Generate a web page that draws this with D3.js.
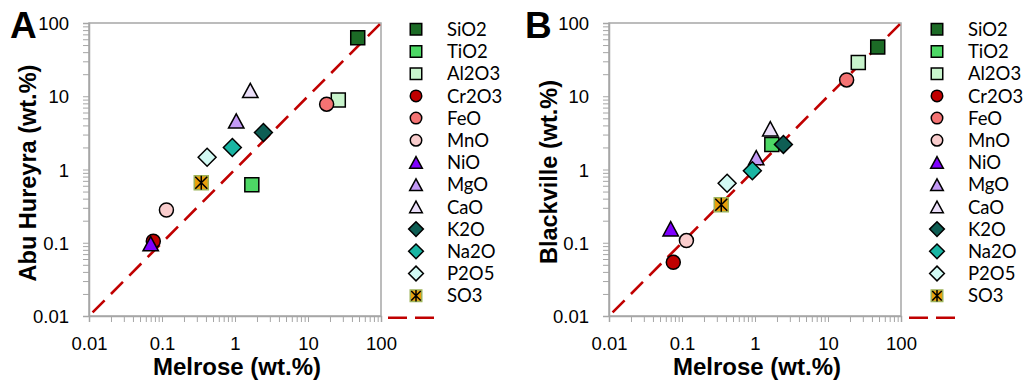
<!DOCTYPE html>
<html><head><meta charset="utf-8">
<script src="https://cdn.jsdelivr.net/npm/d3@7"></script>
<style>body{margin:0;background:#fff}svg{display:block}</style>
</head><body>
<svg id="c" width="1023" height="385"></svg>
<script>
const oxides = ["SiO2","TiO2","Al2O3","Cr2O3","FeO","MnO","NiO","MgO","CaO","K2O","Na2O","P2O5","SO3"];
const shapes = ["square","square","square","circle","circle","circle","triangle","triangle","triangle","diamond","diamond","diamond","star"];
const colors = ["#1c6b26","#4dd865","#c8f4cc","#c00000","#f47373","#f9cdcd","#7f00ff","#c39af5","#ebdff9","#0e5e54","#19b5a3","#d2faf4","#e9a00c"];
const melrose    = [48, 1.7, 26, 0.076, 18, 0.115, 0.07, 1.04, 1.62, 2.45, 0.92, 0.415, 0.345];
const abuHureyra = [63, 0.62, 8.9, 0.105, 7.8, 0.28, 0.097, 4.6, 12, 3.2, 2.0, 1.47, 0.66];
const blackville = [47, 2.2, 29, 0.054, 16.7, 0.107, 0.155, 1.45, 3.6, 2.2, 0.96, 0.65, 0.33];
const majorTicks = [0.01, 0.1, 1, 10, 100];
const tickLabels = ["0.01","0.1","1","10","100"];
const oneToOne = [0.0112, 100];

const svg = d3.select("#c");
const GRAY = "#a6a6a6";
const tickVals = [];
for (let k = -2; k < 2; k++) for (let m = 1; m < 10; m++) tickVals.push(+(m * Math.pow(10, k)).toPrecision(3));
tickVals.push(100);
const fmt = v => { const i = majorTicks.findIndex(t => Math.abs(t - v) / t < 1e-6); return i >= 0 ? tickLabels[i] : ""; };

function markerPath(shape, s) {
  if (shape === "circle") return d3.symbol(d3.symbolCircle, Math.PI * s * s / 4)();
  if (shape === "square" || shape === "star") { const h = s / 2; return `M${-h},${-h}H${h}V${h}H${-h}Z`; }
  if (shape === "triangle") { const w = s * 1.1, hh = s * 1.02; return `M0,${-hh/2}L${w/2},${hh/2}L${-w/2},${hh/2}Z`; }
  if (shape === "diamond") { const h = s * 0.64; return `M0,${-h}L${h},0L0,${h}L${-h},0Z`; }
}
function drawMarker(g, i, cx, cy, s) {
  const shape = shapes[i];
  const gg = g.append("g").attr("transform", `translate(${cx},${cy})`);
  if (shape === "star") {
    gg.append("path").attr("d", markerPath(shape, s)).attr("fill", colors[i]).attr("stroke", "#9db35a").attr("stroke-width", 1.5);
    const h = s / 2 - 1;
    gg.append("path").attr("d", `M${-h},${-h}L${h},${h}M${-h},${h}L${h},${-h}M0,${-h-1}V${h+1}`).attr("stroke", "#000").attr("stroke-width", 1.5).attr("fill", "none");
  } else {
    gg.append("path").attr("d", markerPath(shape, s)).attr("fill", colors[i]).attr("stroke", "#000").attr("stroke-width", 1.5);
  }
}

function panel(opt) {
  const x = d3.scaleLog().domain([0.01, 100]).range([opt.left, opt.left + 292]);
  const y = d3.scaleLog().domain([0.01, 100]).range([316, 23]);
  const g = svg.append("g");
  g.append("rect").attr("x", x.range()[0]).attr("y", y.range()[1]).attr("width", 292).attr("height", 293)
    .attr("fill", "none").attr("stroke", GRAY).attr("stroke-width", 1.5);
  const xa = g.append("g").attr("transform", "translate(0,316)")
    .call(d3.axisBottom(x).tickValues(tickVals).tickSize(6).tickFormat(fmt).tickPadding(15));
  const ya = g.append("g").attr("transform", `translate(${opt.left},0)`)
    .call(d3.axisLeft(y).tickValues(tickVals).tickSize(6).tickFormat(fmt).tickPadding(14));
  [xa, ya].forEach(a => {
    a.select(".domain").attr("stroke", GRAY).attr("stroke-width", 1.5);
    a.selectAll(".tick line").attr("stroke", GRAY).attr("stroke-width", 1);
    a.selectAll("text").attr("font-family", "Liberation Sans, Arial, sans-serif").attr("font-size", 18.5).attr("fill", "#000");
  });
  ya.selectAll("text").attr("dy", "0.36em");
  g.append("line").attr("x1", x(oneToOne[0])).attr("y1", y(oneToOne[0])).attr("x2", x(oneToOne[1])).attr("y2", y(oneToOne[1]))
    .attr("stroke", "#c00000").attr("stroke-width", 2.6).attr("stroke-dasharray", "17,9");
  oxides.forEach((o, i) => drawMarker(g, i, x(melrose[i]), y(opt.values[i]), 14));
  g.append("text").attr("x", opt.left + 148).attr("y", 375).attr("text-anchor", "middle")
    .attr("font-family", "Liberation Sans, Arial, sans-serif").attr("font-weight", "bold").attr("font-size", 24).text("Melrose (wt.%)");
  g.append("text").attr("transform", `translate(${opt.ytx},${opt.yty}) rotate(-90)`).attr("text-anchor", "middle")
    .attr("font-family", "Liberation Sans, Arial, sans-serif").attr("font-weight", "bold").attr("font-size", 23.5).text(opt.ytitle);
  g.append("text").attr("x", opt.letterX).attr("y", 38).attr("font-family", "Liberation Sans, Arial, sans-serif")
    .attr("font-weight", "bold").attr("font-size", 37).text(opt.letter);
  oxides.forEach((o, i) => {
    const ly = 29.3 + i * 22.2;
    drawMarker(g, i, opt.legX, ly, 11.5);
    g.append("text").attr("x", opt.legX + 31).attr("y", ly).attr("dy", "0.36em")
      .attr("font-family", "Lato, sans-serif").attr("font-size", 18.5).text(o);
  });
  g.append("line").attr("x1", opt.legX - 28).attr("x2", opt.legX + 19).attr("y1", 317.7).attr("y2", 317.7)
    .attr("stroke", "#c00000").attr("stroke-width", 2.6).attr("stroke-dasharray", "19,8");
}

panel({left: 89, values: abuHureyra, ytitle: "Abu Hureyra (wt.%)", ytx: 36, yty: 173, letter: "A", letterX: 10, legX: 416});
panel({left: 609, values: blackville, ytitle: "Blackville (wt.%)", ytx: 557, yty: 172, letter: "B", letterX: 525, legX: 937});
</script>
</body></html>
